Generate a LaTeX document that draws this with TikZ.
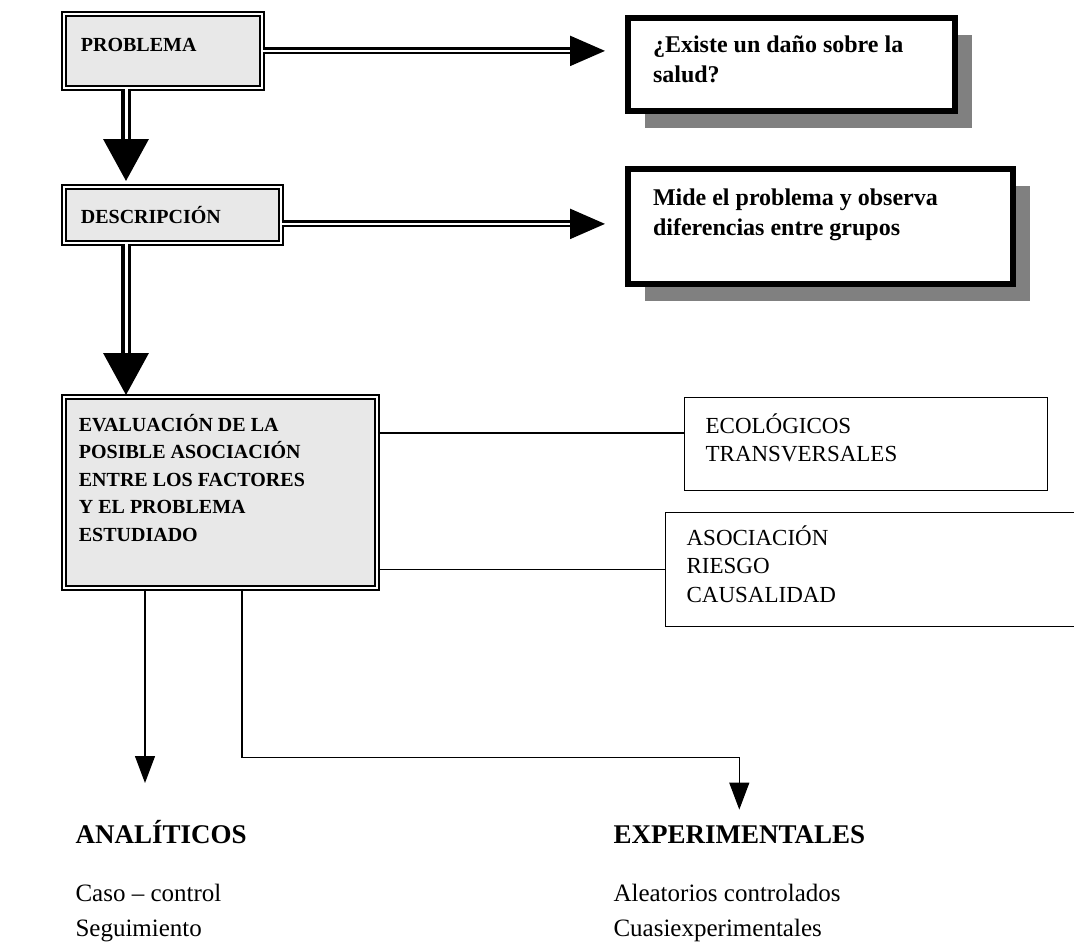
\documentclass[tikz,border=0pt]{standalone}
\usepackage{fontspec}
\setmainfont{Liberation Serif}
\usetikzlibrary{arrows.meta, positioning, calc, shadows}

\begin{document}
\begin{tikzpicture}[
    x=1pt, y=-1pt,
    stagebox/.style={
        rectangle, draw=black, double=white, line width=1.8pt,
        double distance=2pt, fill=boxgray, anchor=north west,
        inner xsep=#1, inner ysep=0pt,
        font=\fontsize{20}{27.5}\selectfont\bfseries
    },
    notebox/.style={
        rectangle, draw=black, line width=6pt, fill=white, anchor=north west,
        inner xsep=#1, inner ysep=0pt,
        general shadow={fill=shadowgray, shadow xshift=17pt, shadow yshift=-17pt},
        font=\fontsize{24}{30}\selectfont\bfseries
    },
    listbox/.style={
        rectangle, draw=black, line width=1.2pt, fill=white, anchor=north west,
        inner xsep=#1, inner ysep=0pt,
        font=\fontsize{23}{28.5}\selectfont
    },
    head/.style={
        anchor=base west, font=\fontsize{27}{32}\selectfont\bfseries
    },
    items/.style={
        anchor=north west, align=left, font=\fontsize{25}{35}\selectfont
    },
    harrow/.style={
        -{Triangle[length=35pt,width=30pt]}, draw=black, double=white,
        line width=2.2pt, double distance=2.5pt, shorten >=#1
    },
    varrow/.style={
        -{Triangle[length=42pt,width=45pt]}, draw=black, double=white,
        line width=3.5pt, double distance=3pt, shorten >=#1
    },
    link/.style={
        draw=black, line width=1.2pt
    },
    tarrow/.style={
        -{Triangle[length=27pt,width=20pt]}, draw=black, line width=1.2pt
    },
]

\definecolor{boxgray}{RGB}{232,232,232}
\definecolor{shadowgray}{RGB}{128,128,128}

\useasboundingbox (0,0) rectangle (1074,950);

% ============================================================
% Left column
% ============================================================

\node[stagebox=17pt] (prob) at (63,13) {%
    \begin{minipage}[t][74pt][t]{164pt}
    \vspace*{24pt}
    PROBLEMA
    \end{minipage}};

\node[stagebox=17pt] (desc) at (63,186) {%
    \begin{minipage}[t][56pt][t]{183pt}
    \vspace*{19pt}
    DESCRIPCIÓN
    \end{minipage}};

\node[stagebox=15pt] (eval) at (63,396) {%
    \begin{minipage}[t][191pt][t]{283pt}
    \vspace*{17pt}
    EVALUACIÓN DE LA\\
    POSIBLE ASOCIACIÓN\\
    ENTRE LOS FACTORES\\
    Y EL PROBLEMA\\
    ESTUDIADO
    \end{minipage}};

% ============================================================
% Right column
% ============================================================

\node[notebox=25pt] (exist) at (625,15) {%
    \begin{minipage}[t][93pt][t]{277pt}
    \vspace*{18pt}
    ¿Existe un daño sobre la\\
    salud?
    \end{minipage}};

\node[notebox=25pt] (mide) at (625,166) {%
    \begin{minipage}[t][115pt][t]{335pt}
    \vspace*{20pt}
    Mide el problema y observa\\
    diferencias entre grupos
    \end{minipage}};

\node[listbox=21pt] (eco) at (684,397) {%
    \begin{minipage}[t][93pt][t]{321pt}
    \vspace*{16pt}
    ECOLÓGICOS\\
    TRANSVERSALES
    \end{minipage}};

\node[listbox=21pt] (asoc) at (665,512) {%
    \begin{minipage}[t][114pt][t]{378pt}
    \vspace*{13pt}
    ASOCIACIÓN\\
    RIESGO\\
    CAUSALIDAD
    \end{minipage}};

% ============================================================
% Bottom
% ============================================================

\node[head] (ana) at (72,843) {ANALÍTICOS};
\node[items, below=34pt of ana.south west, anchor=north west] (analist)
    {Caso – control\\Seguimiento};

\node[head] (exp) at (610,843) {EXPERIMENTALES};
\node[items, below=34pt of exp.south west, anchor=north west] (explist)
    {Aleatorios controlados\\Cuasiexperimentales};

% ============================================================
% Connectors
% ============================================================

\draw[harrow=20pt] (prob.east) -- (prob.east -| exist.west);
\coordinate (descR) at ([yshift=-9pt]desc.east);
\draw[harrow=20pt] (descR) -- (descR -| mide.west);

\coordinate (probB) at ($(prob.south west)+(63,0)$);
\draw[varrow=5pt] (probB) -- (probB |- desc.north);
\coordinate (descB) at ($(desc.south west)+(63,0)$);
\draw[varrow=1pt] (descB) -- (descB |- eval.north);

\coordinate (ecoIn) at ($(eco.north west)+(0,36)$);
\draw[link] (ecoIn -| eval.east) -- (ecoIn);
\draw[link] (asoc.west -| eval.east) -- (asoc.west);

\coordinate (anaTip) at (145,783);
\draw[tarrow] (anaTip |- eval.south) -- (anaTip);
\draw[tarrow, shorten >=12pt]
    ($(eval.south west)+(179,0)$) -- ++(0,169) -| (exp.north);

\end{tikzpicture}
\end{document}
